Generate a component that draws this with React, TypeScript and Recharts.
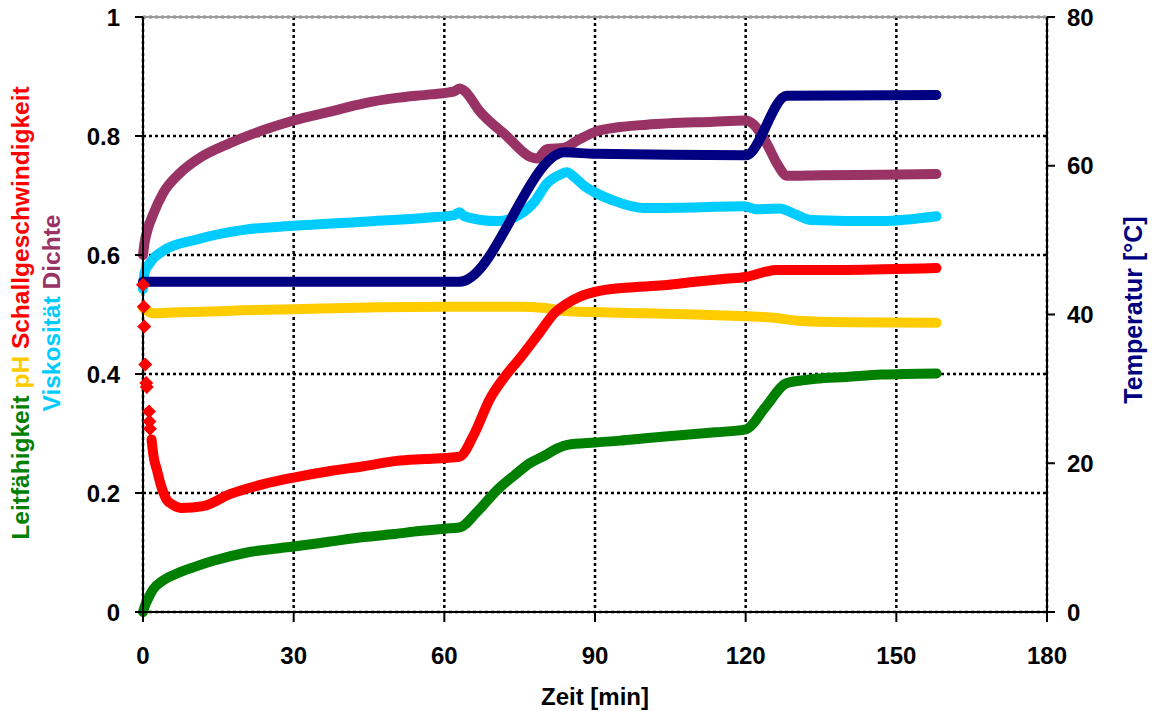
import { ComposedChart, Line, Scatter, XAxis, YAxis, CartesianGrid, ReferenceLine } from 'recharts';

type Punkt = [number, number];

const zeitTicks = [0, 30, 60, 90, 120, 150, 180];
const normTicks = [0, 0.2, 0.4, 0.6, 0.8, 1];
const tempTicks = [0, 20, 40, 60, 80];

// [Zeit in min, normierter Wert]
const leitfaehigkeit: Punkt[] = [
  [0, 0], [0.5, 0.013], [1, 0.022], [2, 0.038], [4, 0.053], [7.4, 0.067], [10, 0.075], [14, 0.086],
  [20.7, 0.1], [30, 0.11], [37, 0.118], [44, 0.126], [50, 0.131], [55, 0.136], [60, 0.14], [63, 0.142],
  [66.5, 0.168], [70.5, 0.205], [74, 0.23], [77, 0.25], [80, 0.263], [82.5, 0.275], [84.5, 0.281],
  [90, 0.285], [95, 0.288], [100, 0.292], [107, 0.297], [114, 0.302], [120, 0.307], [124, 0.345],
  [128, 0.384], [131, 0.389], [134, 0.392], [140, 0.395], [147, 0.399], [158, 0.401],
];

const ph: Punkt[] = [
  [0, 0.511], [1, 0.505], [2, 0.502], [5, 0.503], [10, 0.504], [20, 0.507], [30, 0.509], [47, 0.512],
  [60, 0.513], [75, 0.513], [80, 0.511], [84, 0.506], [90, 0.504], [100, 0.502], [110, 0.5], [120, 0.497],
  [125, 0.495], [131, 0.489], [140, 0.487], [158, 0.486],
];

// einzelne Messpunkte direkt nach dem Start
const schallAnfang: Punkt[] = [
  [0, 0.55], [0.15, 0.513], [0.25, 0.48], [0.45, 0.416], [0.65, 0.385], [0.75, 0.378],
  [1.2, 0.337], [1.3, 0.32], [1.4, 0.308],
];

const schall: Punkt[] = [
  [1.7, 0.29], [2.1, 0.262], [2.8, 0.238], [3.4, 0.218], [4.7, 0.189], [6, 0.18], [7.7, 0.175], [12, 0.178],
  [17.3, 0.198], [24, 0.215], [30, 0.226], [37.3, 0.237], [43.9, 0.245], [50.5, 0.254], [56, 0.257],
  [60, 0.259], [63, 0.261], [66, 0.3], [69, 0.357], [72, 0.395], [75, 0.426], [79, 0.47], [82, 0.503],
  [84, 0.516], [87, 0.53], [90, 0.538], [96, 0.545], [103.6, 0.549], [110, 0.555], [116, 0.56],
  [120, 0.563], [124, 0.572], [126, 0.575], [140, 0.575], [158, 0.578],
];

const viskositaet: Punkt[] = [
  [0, 0.543], [0.3, 0.57], [1.4, 0.587], [4, 0.607], [10.7, 0.626], [20.7, 0.643], [30, 0.649], [44, 0.656],
  [57, 0.663], [62, 0.667], [63, 0.672], [64, 0.665], [70.5, 0.657], [73, 0.66], [75, 0.668], [78, 0.69],
  [80.4, 0.72], [83, 0.735], [84.4, 0.739], [86, 0.73], [88, 0.715], [90, 0.705], [93.5, 0.692],
  [99.6, 0.679], [110, 0.68], [119.7, 0.682], [122, 0.677], [126.7, 0.678], [130, 0.668], [133, 0.659],
  [147, 0.657], [158, 0.665],
];

const dichte: Punkt[] = [
  [0, 0.6], [0.3, 0.62], [1, 0.645], [2, 0.668], [4, 0.704], [7.4, 0.738], [10.7, 0.76], [17.3, 0.788],
  [24, 0.81], [30, 0.826], [37.3, 0.841], [44, 0.855], [50.5, 0.864], [57.2, 0.87], [62, 0.875], [63, 0.88],
  [64, 0.876], [67, 0.842], [72.4, 0.8], [77.1, 0.765], [78.5, 0.762], [80.4, 0.778], [83.7, 0.78],
  [87, 0.795], [90, 0.807], [95, 0.815], [100.3, 0.819], [113.6, 0.824], [120, 0.826], [121.5, 0.82],
  [124, 0.79], [126.5, 0.75], [128.2, 0.733], [135, 0.734], [147, 0.735], [158, 0.736],
];

// [Zeit in min, Temperatur in °C]
const temperatur: Punkt[] = [
  [0, 44.4], [63, 44.4], [84, 61.8], [90, 61.6], [120, 61.4], [128.2, 69.4], [158, 69.5],
];

const rows = (pts: Punkt[]) => pts.map(([t, v]) => ({ t, v }));

const FONT = '"Liberation Sans", Arial, sans-serif';
const tickStyle = { fontFamily: FONT, fontSize: 24, fontWeight: 700, fill: '#000' };

const GRUEN = '#008000';
const GELB = '#FFCC00';
const ROT = '#FF0000';
const CYAN = '#00CCFF';
const LILA = '#993366';
const NAVY = '#000080';

function LinkerTitel() {
  return (
    <g style={{ fontFamily: FONT, fontSize: 24.5, fontWeight: 700 }}>
      <text x={29} y={313} textAnchor="middle" transform="rotate(-90, 29, 313)">
        <tspan fill={GRUEN}>Leitfähigkeit </tspan>
        <tspan fill={GELB}>pH </tspan>
        <tspan fill={ROT}>Schallgeschwindigkeit</tspan>
      </text>
      <text x={60} y={313} textAnchor="middle" transform="rotate(-90, 60, 313)">
        <tspan fill={CYAN}>Viskosität </tspan>
        <tspan fill={LILA}>Dichte</tspan>
      </text>
    </g>
  );
}

function RechterTitel() {
  return (
    <text x={1142} y={310} textAnchor="middle" transform="rotate(-90, 1142, 310)"
      style={{ fontFamily: FONT, fontSize: 25, fontWeight: 700, fill: NAVY }}>
      Temperatur [°C]
    </text>
  );
}

function ZeitTitel() {
  return (
    <text x={595} y={705} textAnchor="middle" style={{ fontFamily: FONT, fontSize: 24, fontWeight: 700, fill: '#000' }}>
      Zeit [min]
    </text>
  );
}

// Raute wie die Excel-Marker
function Raute(props: any) {
  const { cx, cy, fill } = props;
  const r = 7;
  return <polygon points={`${cx},${cy - r} ${cx + r},${cy} ${cx},${cy + r} ${cx - r},${cy}`} fill={fill} />;
}

const serie = (daten: Punkt[], farbe: string, name: string, achse: string | number = 0) => (
  <Line
    key={name}
    data={rows(daten)}
    dataKey="v"
    name={name}
    yAxisId={achse}
    type="monotone"
    stroke={farbe}
    strokeWidth={10}
    strokeLinejoin="round"
    strokeLinecap="round"
    dot={false}
    isAnimationActive={false}
  />
);

export default function App() {
  return (
    <div style={{ position: 'absolute', left: 0, top: 0, background: '#fff' }}>
      <ComposedChart width={1153} height={711} margin={{ top: 17, right: 0, bottom: 0, left: 0 }}>
        <ReferenceLine y={1} stroke="#9a9a9a" strokeWidth={2} />
        <CartesianGrid stroke="#000" strokeWidth={2.5} strokeDasharray="3 3" />
        <XAxis
          type="number"
          dataKey="t"
          domain={[0, 180]}
          ticks={zeitTicks}
          allowDuplicatedCategory={false}
          height={99}
          tickSize={10}
          tickMargin={25}
          tick={tickStyle}
          stroke="#000"
          strokeWidth={2}
          label={{ content: () => <ZeitTitel /> }}
        />
        <YAxis
          yAxisId={0}
          domain={[0, 1]}
          ticks={normTicks}
          width={143}
          tickSize={8}
          tickMargin={15}
          tick={tickStyle}
          stroke="#000"
          strokeWidth={2}
          label={{ content: () => <LinkerTitel /> }}
        />
        <YAxis
          yAxisId="temp"
          orientation="right"
          domain={[0, 80]}
          ticks={tempTicks}
          width={106}
          tickSize={8}
          tickMargin={12}
          tick={tickStyle}
          stroke="#000"
          strokeWidth={2}
          label={{ content: () => <RechterTitel /> }}
        />
        {serie(leitfaehigkeit, GRUEN, 'Leitfähigkeit')}
        {serie(ph, GELB, 'pH')}
        {serie(schall, ROT, 'Schallgeschwindigkeit')}
        <Scatter
          data={rows(schallAnfang)}
          dataKey="v"
          yAxisId={0}
          shape={<Raute />}
          fill={ROT}
          legendType="none"
          isAnimationActive={false}
        />
        {serie(viskositaet, CYAN, 'Viskosität')}
        {serie(dichte, LILA, 'Dichte')}
        {serie(temperatur, NAVY, 'Temperatur', 'temp')}
      </ComposedChart>
    </div>
  );
}
